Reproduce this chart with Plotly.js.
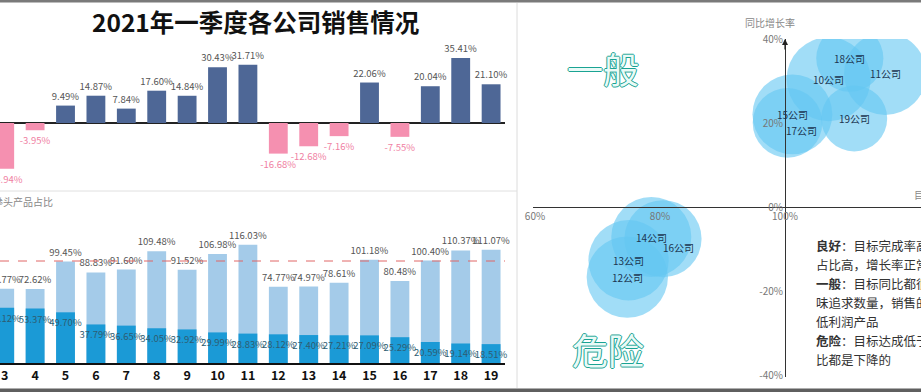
<!DOCTYPE html>
<html><head><meta charset="utf-8">
<script src="https://cdn.plot.ly/plotly-3.0.1.min.js"></script>
<style>html,body{margin:0;padding:0;background:#fff;}#chart{width:921px;height:392px;}</style>
</head><body><div id="chart"></div>
<script>
// ---- data ----
const companies = [3,4,5,6,7,8,9,10,11,12,13,14,15,16,17,18,19];
const growth = [-24.94,-3.95,9.49,14.87,7.84,17.60,14.84,30.43,31.71,-16.68,-12.68,-7.16,22.06,-7.55,20.04,35.41,21.10];
const completion = [72.77,72.62,99.45,88.83,91.60,109.48,91.52,106.98,116.03,74.77,74.97,78.61,101.18,80.48,100.40,110.37,111.07];
const share = [54.12,53.37,49.70,37.79,36.65,34.05,32.92,29.99,28.83,28.12,27.40,27.21,27.09,25.29,20.59,19.14,18.51];
const bubbleCompanies = [10,11,12,13,14,15,16,17,18,19];
const xTicks = [60,80,100,120];
const yTicks = [-40,-20,0,20,40];
const chartTitle = '2021年一季度各公司销售情况';
const subTitle = '目标完成率与拳头产品占比';
const yTitle = '同比增长率';
const xTitle = '目标完成率';
const noteLines = [
  '<b>良好</b>：目标完成率高，拳头产品',
  '占比高，增长率正常',
  '<b>一般</b>：目标同比都很好，但一',
  '味追求数量，销售的却是',
  '低利润产品',
  '<b>危险</b>：目标达成低于80%，同',
  '比都是下降的'
];

// ---- helpers ----
const W = 921, H = 392;
const px = v => v / W;
const py = v => 1 - v / H;
const fmt = v => v.toFixed(2) + '%';
const FONT = 'Noto Sans CJK SC, Open Sans, sans-serif';

const bIdx = bubbleCompanies.map(c => companies.indexOf(c));
const bx = bIdx.map(i => completion[i]);
const by = bIdx.map(i => growth[i]);
const bs = bIdx.map(i => share[i]);

const labelShift = {16: [15, -9], 17: [14, -8]};

const traces = [
  {type:'bar', x:companies, y:growth, xaxis:'x', yaxis:'y', width:0.62,
   marker:{color: growth.map(v => v >= 0 ? '#4e6796' : '#f590b0')},
   text: growth.map(fmt), textposition:'outside', constraintext:'none', cliponaxis:false, textangle:0,
   textfont:{size:9.5, color: growth.map(v => v >= 0 ? '#555' : '#f07fa3')}, hoverinfo:'skip'},
  {type:'bar', x:companies, y:completion, xaxis:'x2', yaxis:'y2', width:0.62,
   marker:{color:'#a4cbe9'}, text: completion.map(fmt), textposition:'outside', constraintext:'none',
   cliponaxis:false, textangle:0, textfont:{size:9.5, color:'#555'}, hoverinfo:'skip'},
  {type:'bar', x:companies, y:share, xaxis:'x2', yaxis:'y2', width:0.62,
   marker:{color:'#1b9ad6'}, text: share.map(fmt), textposition:'inside', insidetextanchor:'end',
   constraintext:'none', textangle:0, cliponaxis:false,
   textfont:{size:9.5, color:'#2e5d72'}, hoverinfo:'skip'},
  {type:'scatter', mode:'markers', x:bx, y:by, xaxis:'x3', yaxis:'y3',
   marker:{size:bs, sizemode:'area', sizeref:0.0085, color:'rgba(100,199,242,0.86)', line:{width:0}},
   hoverinfo:'skip'}
];

const xr = [2.845, 19.457];
const P = (x, y, text, font, xa) => ({xref:'paper', yref:'paper', x:px(x), y:py(y), text:text,
  showarrow:false, xanchor:xa || 'center', yanchor:'middle', font:font});
const annotations = [
  P(255, 21, '<b>'+chartTitle+'</b>', {family:FONT, size:24.5, color:'#111'}),
  P(55, 201, subTitle, {family:FONT, size:10, color:'#888'}, 'right'),
  P(770, 22, yTitle, {family:FONT, size:10, color:'#888'}),
  P(912, 194, xTitle, {family:FONT, size:10, color:'#888'}, 'left'),
  {xref:'x3', yref:'y3', x:100, y:40, ax:0, ay:12, text:'', showarrow:true, arrowhead:2,
   arrowsize:1, arrowwidth:1.2, arrowcolor:'#222'}
];
const quad = [['一般', 603, 68, 'center'], ['危险', 608, 349, 'center'], ['良好', 916, 68, 'left']];
quad.forEach(q => annotations.push(P(q[1], q[2], q[0],
  {family:FONT, size:36, color:'#eafaf7',
   shadow:'1px 0 0 #1aa393, -1px 0 0 #1aa393, 0 1px 0 #1aa393, 0 -1px 0 #1aa393'}, q[3])));
bubbleCompanies.forEach((c, i) => {
  const s = labelShift[c] || [0, 0];
  annotations.push({xref:'x3', yref:'y3', x:bx[i], y:by[i], text:c + '公司', showarrow:false,
    xanchor:'center', yanchor:'middle',
    xshift:s[0], yshift:s[1], font:{family:FONT, size:10, color:'#1b3550'}});
});
noteLines.forEach((t, i) => annotations.push(P(814, 245 + i * 19, t,
  {family:FONT, size:12.5, color:'#333'}, 'left')));

const shapes = [
  {type:'rect', xref:'paper', yref:'paper', x0:0, x1:1, y0:py(2.5), y1:1, fillcolor:'#7a7a7a', line:{width:0}},
  {type:'rect', xref:'paper', yref:'paper', x0:0, x1:1, y0:0, y1:py(388.5), fillcolor:'#5f5f5f', line:{width:0}},
  {type:'line', xref:'paper', yref:'paper', x0:px(517), x1:px(517), y0:py(3), y1:py(388), line:{color:'#dcdcdc', width:1}},
  {type:'line', xref:'paper', yref:'paper', x0:0, x1:px(517), y0:py(191), y1:py(191), line:{color:'#e0e0e0', width:1}},
  {type:'line', xref:'paper', yref:'y2', x0:0, x1:px(505), y0:100, y1:100, line:{color:'#e06666', width:1, dash:'dash'}}
];

const layout = {
  width:W, height:H, margin:{l:0, r:0, t:0, b:0}, paper_bgcolor:'#fff', plot_bgcolor:'rgba(0,0,0,0)',
  showlegend:false, barmode:'overlay', font:{family:FONT},
  xaxis:{domain:[0, px(505)], range:xr, anchor:'y', showticklabels:false, showgrid:false, zeroline:false, fixedrange:true},
  yaxis:{domain:[py(185), py(40)], range:[-(185-123)/1.835, (123-40)/1.835], anchor:'x', showgrid:false,
         showticklabels:false, zeroline:true, zerolinecolor:'#222', zerolinewidth:1.5},
  xaxis2:{domain:[0, px(505)], range:xr, anchor:'y2', showline:true, linecolor:'#111', linewidth:1.5,
          tickvals:companies, ticks:'', showgrid:false, zeroline:false,
          tickfont:{size:12.5, color:'#111', weight:'bold'}},
  yaxis2:{domain:[py(363), py(200)], range:[0, (363-200)/1.02], anchor:'x2', showgrid:false,
          showticklabels:false, zeroline:false},
  xaxis3:{domain:[px(533), 1], range:[100 - (785-533)/6.25, 100 + (921-785)/6.25], anchor:'free',
          position:py(207), showline:true, linecolor:'#333', linewidth:1.2, showgrid:false, zeroline:false,
          tickvals:xTicks, ticktext:xTicks.map(v => v + '%'), ticks:'', tickfont:{size:10, color:'#777'}},
  yaxis3:{domain:[py(377), py(39)], range:[40 - (377-39)/4.2, 40], anchor:'free', position:px(785),
          showline:true, linecolor:'#333', linewidth:1.2, showgrid:false, zeroline:false,
          tickvals:yTicks, ticktext:yTicks.map(v => v + '%'), ticks:'', tickfont:{size:10, color:'#777'}},
  annotations:annotations, shapes:shapes
};

Plotly.newPlot('chart', traces, layout, {displayModeBar:false, staticPlot:true});
</script>
</body></html>
